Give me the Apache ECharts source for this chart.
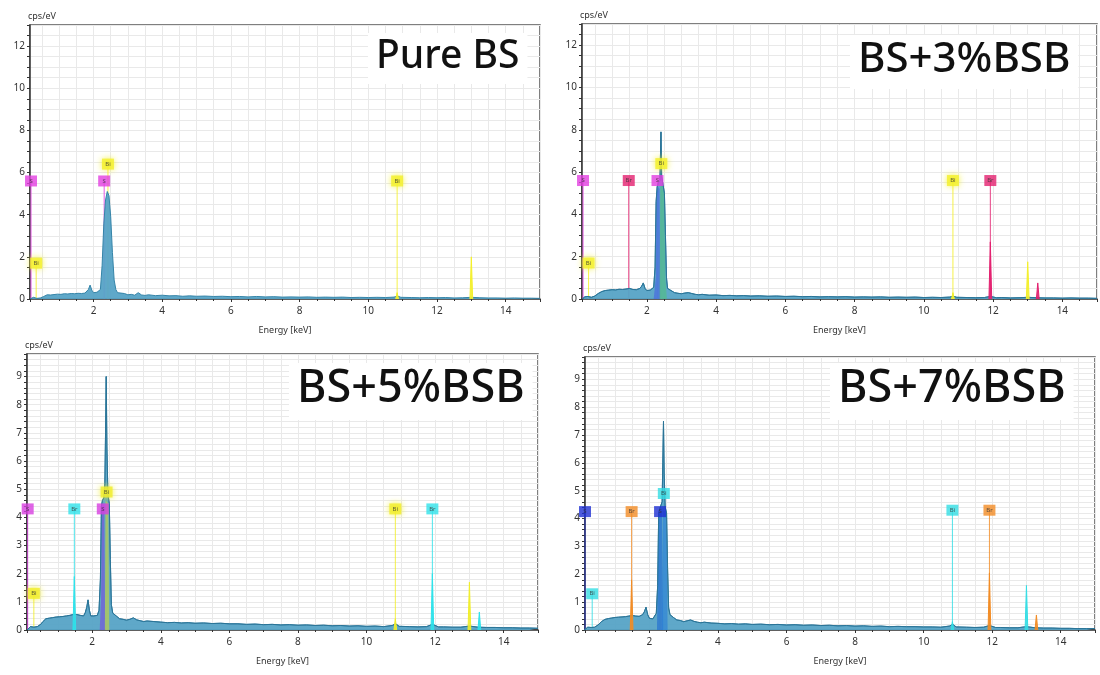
<!DOCTYPE html>
<html>
<head>
<meta charset="utf-8">
<script src="https://cdn.jsdelivr.net/npm/echarts@6/dist/echarts.min.js"></script>
<style>
html,body{margin:0;padding:0;background:#fff;}
#main{width:1100px;height:675px;}
</style>
</head>
<body>
<div id="main"></div>
<script>
// ---------------- DATA ----------------
const titles = ['Pure BS', 'BS+3%BSB', 'BS+5%BSB', 'BS+7%BSB'];
const xAxisName = 'Energy [keV]';
const yAxisName = 'cps/eV';

// measured spectra [energy keV, cps/eV]
const pureBS_spec = [[0.15,0],[0.2,0.04],[0.25,0.08],[0.3,0.05],[0.35,0.03],[0.4,0.06],[0.45,0.05],[0.5,0.09],[0.55,0.12],[0.6,0.15],[0.65,0.2],[0.7,0.22],[0.75,0.19],[0.8,0.24],[0.85,0.21],[0.9,0.26],[0.95,0.23],[1.0,0.27],[1.05,0.22],[1.1,0.28],[1.15,0.25],[1.2,0.3],[1.25,0.24],[1.3,0.29],[1.35,0.26],[1.4,0.31],[1.45,0.25],[1.5,0.3],[1.55,0.27],[1.6,0.33],[1.65,0.26],[1.7,0.31],[1.75,0.28],[1.8,0.35],[1.85,0.45],[1.9,0.66],[1.95,0.42],[2.0,0.3],[2.05,0.27],[2.1,0.32],[2.15,0.29],[2.2,0.45],[2.25,1.6],[2.3,3.6],[2.35,4.7],[2.4,5.1],[2.45,4.9],[2.5,3.9],[2.55,2.2],[2.6,0.9],[2.65,0.45],[2.7,0.3],[2.75,0.36],[2.8,0.28],[2.85,0.24],[2.9,0.26],[3.0,0.2],[3.1,0.22],[3.2,0.18],[3.3,0.3],[3.4,0.19],[3.5,0.17],[3.6,0.2],[3.8,0.16],[4.0,0.18],[4.2,0.15],[4.4,0.16],[4.6,0.13],[4.8,0.15],[5.0,0.13],[5.25,0.14],[5.5,0.12],[5.75,0.13],[6.0,0.11],[6.25,0.12],[6.5,0.1],[6.75,0.12],[7.0,0.1],[7.25,0.11],[7.5,0.09],[7.75,0.1],[8.0,0.09],[8.25,0.1],[8.5,0.08],[8.75,0.09],[9.0,0.08],[9.25,0.09],[9.5,0.07],[9.75,0.08],[10.0,0.07],[10.25,0.08],[10.5,0.07],[10.75,0.09],[10.85,0.14],[10.95,0.08],[11.25,0.07],[11.5,0.06],[11.75,0.07],[12.0,0.06],[12.25,0.07],[12.5,0.05],[12.75,0.06],[13.0,0.08],[13.25,0.06],[13.5,0.05],[13.75,0.05],[14.0,0.04],[14.25,0.05],[14.5,0.04],[14.75,0.04],[15.0,0.03]];

const bs3_spec = [[0.15,0],[0.2,0.1],[0.25,0.06],[0.3,0.12],[0.35,0.05],[0.4,0.08],[0.45,0.1],[0.5,0.14],[0.55,0.2],[0.6,0.26],[0.65,0.3],[0.7,0.35],[0.75,0.31],[0.8,0.4],[0.85,0.36],[0.9,0.42],[0.95,0.35],[1.0,0.44],[1.05,0.38],[1.1,0.43],[1.15,0.37],[1.2,0.46],[1.25,0.4],[1.3,0.45],[1.35,0.39],[1.4,0.47],[1.45,0.42],[1.5,0.5],[1.55,0.41],[1.6,0.45],[1.65,0.38],[1.7,0.44],[1.75,0.4],[1.8,0.5],[1.85,0.6],[1.9,0.76],[1.95,0.5],[2.0,0.4],[2.05,0.36],[2.1,0.42],[2.15,0.38],[2.2,0.55],[2.24,1.5],[2.27,4.6],[2.3,5.3],[2.34,5.5],[2.38,5.6],[2.41,7.9],[2.43,5.8],[2.47,5.4],[2.51,5.0],[2.54,3.0],[2.57,1.0],[2.6,0.5],[2.65,0.55],[2.7,0.4],[2.75,0.35],[2.8,0.3],[2.9,0.27],[3.0,0.25],[3.1,0.28],[3.2,0.3],[3.3,0.26],[3.4,0.22],[3.5,0.2],[3.6,0.22],[3.8,0.18],[4.0,0.19],[4.2,0.16],[4.4,0.17],[4.6,0.15],[4.8,0.16],[5.0,0.14],[5.25,0.15],[5.5,0.13],[5.75,0.14],[6.0,0.12],[6.25,0.13],[6.5,0.11],[6.75,0.12],[7.0,0.1],[7.25,0.11],[7.5,0.1],[7.75,0.11],[8.0,0.09],[8.25,0.1],[8.5,0.09],[8.75,0.1],[9.0,0.08],[9.25,0.09],[9.5,0.08],[9.75,0.09],[10.0,0.07],[10.25,0.08],[10.5,0.07],[10.75,0.09],[10.85,0.13],[10.95,0.08],[11.25,0.07],[11.5,0.06],[11.75,0.07],[11.92,0.12],[12.1,0.06],[12.25,0.07],[12.5,0.05],[12.75,0.06],[13.0,0.08],[13.25,0.06],[13.5,0.05],[13.75,0.05],[14.0,0.04],[14.25,0.05],[14.5,0.04],[14.75,0.04],[15.0,0.03]];

const bs5_spec = [[0.1,0],[0.15,0.06],[0.2,0.12],[0.25,0.08],[0.3,0.1],[0.35,0.06],[0.4,0.12],[0.45,0.15],[0.5,0.2],[0.55,0.28],[0.6,0.35],[0.65,0.4],[0.7,0.45],[0.75,0.42],[0.8,0.48],[0.85,0.44],[0.9,0.5],[0.95,0.46],[1.0,0.52],[1.05,0.47],[1.1,0.53],[1.15,0.48],[1.2,0.55],[1.25,0.5],[1.3,0.56],[1.35,0.52],[1.4,0.58],[1.45,0.55],[1.5,0.62],[1.55,0.55],[1.6,0.6],[1.65,0.52],[1.7,0.57],[1.75,0.5],[1.8,0.62],[1.84,0.8],[1.88,1.07],[1.92,0.7],[1.96,0.5],[2.0,0.45],[2.05,0.5],[2.1,0.46],[2.15,0.52],[2.2,0.7],[2.24,1.8],[2.27,4.4],[2.3,4.6],[2.34,4.7],[2.37,5.2],[2.39,7.0],[2.41,9.0],[2.43,6.5],[2.46,4.8],[2.5,4.5],[2.53,2.5],[2.56,0.9],[2.6,0.6],[2.65,0.65],[2.7,0.5],[2.75,0.45],[2.8,0.4],[2.9,0.38],[3.0,0.35],[3.1,0.38],[3.2,0.43],[3.3,0.36],[3.4,0.33],[3.5,0.3],[3.6,0.32],[3.8,0.3],[4.0,0.28],[4.2,0.26],[4.4,0.27],[4.6,0.25],[4.8,0.26],[5.0,0.24],[5.25,0.25],[5.5,0.23],[5.75,0.24],[6.0,0.22],[6.25,0.22],[6.5,0.2],[6.75,0.21],[7.0,0.19],[7.25,0.2],[7.5,0.18],[7.75,0.19],[8.0,0.17],[8.25,0.18],[8.5,0.16],[8.75,0.17],[9.0,0.15],[9.25,0.16],[9.5,0.14],[9.75,0.15],[10.0,0.13],[10.25,0.14],[10.5,0.12],[10.75,0.16],[10.85,0.22],[10.95,0.13],[11.25,0.12],[11.5,0.11],[11.75,0.12],[11.92,0.2],[12.1,0.11],[12.25,0.11],[12.5,0.1],[12.75,0.1],[13.0,0.14],[13.25,0.1],[13.5,0.09],[13.75,0.09],[14.0,0.08],[14.25,0.08],[14.5,0.07],[14.75,0.07],[15.0,0.06]];

const bs7_spec = [[0.1,0],[0.15,0.05],[0.2,0.1],[0.25,0.07],[0.3,0.09],[0.35,0.05],[0.4,0.1],[0.45,0.13],[0.5,0.18],[0.55,0.24],[0.6,0.3],[0.65,0.34],[0.7,0.38],[0.75,0.35],[0.8,0.41],[0.85,0.37],[0.9,0.43],[0.95,0.39],[1.0,0.45],[1.05,0.4],[1.1,0.46],[1.15,0.41],[1.2,0.47],[1.25,0.43],[1.3,0.48],[1.35,0.44],[1.4,0.5],[1.45,0.46],[1.5,0.52],[1.55,0.45],[1.6,0.5],[1.65,0.44],[1.7,0.49],[1.75,0.45],[1.8,0.55],[1.85,0.65],[1.9,0.82],[1.95,0.55],[2.0,0.42],[2.05,0.45],[2.1,0.4],[2.15,0.46],[2.2,0.6],[2.24,1.6],[2.27,4.2],[2.3,4.35],[2.34,4.4],[2.37,4.6],[2.39,6.0],[2.41,7.5],[2.43,5.6],[2.46,4.4],[2.5,4.2],[2.53,2.2],[2.56,0.8],[2.6,0.55],[2.65,0.6],[2.7,0.45],[2.75,0.4],[2.8,0.36],[2.9,0.34],[3.0,0.3],[3.1,0.33],[3.2,0.36],[3.3,0.31],[3.4,0.28],[3.5,0.26],[3.6,0.28],[3.8,0.25],[4.0,0.24],[4.2,0.22],[4.4,0.23],[4.6,0.21],[4.8,0.22],[5.0,0.2],[5.25,0.21],[5.5,0.19],[5.75,0.2],[6.0,0.18],[6.25,0.19],[6.5,0.17],[6.75,0.18],[7.0,0.16],[7.25,0.17],[7.5,0.15],[7.75,0.16],[8.0,0.14],[8.25,0.15],[8.5,0.13],[8.75,0.14],[9.0,0.12],[9.25,0.13],[9.5,0.12],[9.75,0.12],[10.0,0.11],[10.25,0.11],[10.5,0.1],[10.75,0.14],[10.85,0.2],[10.95,0.11],[11.25,0.1],[11.5,0.09],[11.75,0.1],[11.92,0.16],[12.1,0.09],[12.25,0.09],[12.5,0.08],[12.75,0.08],[13.0,0.12],[13.25,0.08],[13.5,0.07],[13.75,0.07],[14.0,0.06],[14.25,0.06],[14.5,0.05],[14.75,0.05],[15.0,0.05]];

// element fit overlays on the main S/Bi peak: [energy, cps]
const bs3_fitS  = [[2.2,0],[2.26,1.0],[2.28,5.0],[2.33,5.3],[2.37,5.2],[2.39,0]];
const bs3_fitBi = [[2.37,0],[2.39,5.3],[2.45,5.4],[2.5,5.0],[2.54,1.0],[2.58,0]];
const bs5_fitS  = [[2.22,0],[2.26,1.2],[2.28,4.4],[2.35,4.5],[2.38,0]];
const bs5_fitBi = [[2.37,0],[2.39,4.6],[2.47,4.5],[2.5,0]];
const bs7_fitS  = [[2.22,0],[2.27,4.2],[2.37,4.3],[2.4,0]];
const bs7_fitBi = [[2.37,0],[2.4,4.3],[2.5,4.2],[2.53,0]];

// narrow fitted lines: [energy, height, element]
const pureBS_lines = [[13.0,2.0,'Bi'],[10.84,0.3,'Bi']];
const bs3_lines = [[11.92,2.7,'Br'],[13.0,1.76,'Bi'],[13.29,0.76,'Br'],[10.84,0.3,'Bi']];
const bs5_lines = [[1.48,1.9,'Br'],[11.92,2.0,'Br'],[13.0,1.7,'Bi'],[13.29,0.64,'Br'],[10.84,0.4,'Bi']];
const bs7_lines = [[1.48,1.8,'Br'],[11.92,2.05,'Br'],[13.0,1.6,'Bi'],[13.29,0.54,'Br'],[10.84,0.3,'Bi']];

// element markers: [energy, label height, element]
const pureBS_marks = [[0.18,5.6,'S'],[0.33,1.7,'Bi'],[2.31,5.6,'S'],[2.42,6.4,'Bi'],[10.84,5.6,'Bi']];
const bs3_marks = [[0.16,5.6,'S'],[0.32,1.7,'Bi'],[1.48,5.6,'Br'],[2.31,5.6,'S'],[2.42,6.4,'Bi'],[10.84,5.6,'Bi'],[11.92,5.6,'Br']];
const bs5_marks = [[0.12,4.3,'S'],[0.3,1.3,'Bi'],[1.48,4.3,'Br'],[2.31,4.3,'S'],[2.42,4.9,'Bi'],[10.84,4.3,'Bi'],[11.92,4.3,'Br']];
const bs7_marks = [[0.12,4.25,'S'],[0.33,1.3,'Bi'],[1.48,4.25,'Br'],[2.31,4.25,'S'],[2.42,4.9,'Bi'],[10.84,4.3,'Bi'],[11.92,4.3,'Br']];

// axis ranges
const xRange = [[0.15,15],[0.13,15],[0.1,15],[0.12,15]];
const yMaxes = [13, 13, 9.8, 9.8];
const yTickSteps = [0.5, 0.5, 0.2, 0.2];
const yLabelSteps = [2, 2, 1, 1];

// ---------------- STYLE / LAYOUT ----------------
const grids = [
  {left:30, top:25, width:510, height:274},
  {left:582, top:24, width:515, height:275},
  {left:27, top:354, width:511, height:276},
  {left:585, top:357, width:510, height:273}
];
const titlePos = [[368,33],[850,35],[289,363],[830,363]];
const titleSizes = [39, 42, 45, 45];
const elColors = [
  {S:'#e23ee0', Bi:'#f4f02a', Br:'#e23ee0'},
  {S:'#e23ee0', Bi:'#f4f02a', Br:'#e3206f'},
  {S:'#d73fe0', Bi:'#f1ee2a', Br:'#2fe2ea'},
  {S:'#1e2fd2', Bi:'#33dde4', Br:'#f28c25'}
];
const overlayColors = [
  null,
  {S:'rgba(70,100,225,0.9)', Bi:'rgba(80,190,130,0.9)'},
  {S:'rgba(120,80,215,0.9)', Bi:'rgba(200,210,60,0.9)'},
  {S:'rgba(35,110,210,0.95)', Bi:'rgba(45,130,215,0.95)'}
];
const specs = [pureBS_spec, bs3_spec, bs5_spec, bs7_spec];
const overlays = [null, {S:bs3_fitS, Bi:bs3_fitBi}, {S:bs5_fitS, Bi:bs5_fitBi}, {S:bs7_fitS, Bi:bs7_fitBi}];
const linesAll = [pureBS_lines, bs3_lines, bs5_lines, bs7_lines];
const marksAll = [pureBS_marks, bs3_marks, bs5_marks, bs7_marks];

const chart = echarts.init(document.getElementById('main'), null, {renderer:'canvas'});
const FONT = 'Noto Sans';
const axisColor = '#333';
const gridColor = '#e9e9e9';

const option = {
  backgroundColor:'#fff',
  animation:false,
  title: titles.map((t,i)=>({
    text:t, left:titlePos[i][0], top:titlePos[i][1],
    backgroundColor:'#fff', padding:[4,8,8,8],
    textStyle:{fontFamily:FONT, fontSize:titleSizes[i], fontWeight:500, color:'#111'}
  })),
  grid: grids.map(g=>Object.assign({show:true, borderColor:'#555', borderWidth:1.5, backgroundColor:'#fff'}, g)),
  xAxis: grids.map((g,i)=>({
    type:'value', gridIndex:i, min:xRange[i][0], max:xRange[i][1], splitNumber:7,
    name:xAxisName, nameLocation:'middle', nameGap:27,
    nameTextStyle:{fontFamily:FONT, fontSize:9, color:'#333'},
    axisLine:{show:true, onZero:false, lineStyle:{color:axisColor, width:1.5}},
    axisTick:{show:true, length:3, lineStyle:{color:axisColor}},
    minorTick:{show:true, splitNumber:4, length:2, lineStyle:{color:axisColor}},
    axisLabel:{fontFamily:FONT, fontSize:10, color:'#333', margin:7, showMinLabel:false, showMaxLabel:false},
    splitLine:{show:true, lineStyle:{color:gridColor, width:1}},
    minorSplitLine:{show:true, lineStyle:{color:gridColor, width:1}}
  })),
  yAxis: grids.map((g,i)=>({
    type:'value', gridIndex:i, min:0, max:yMaxes[i], interval:yTickSteps[i],
    name:yAxisName, nameLocation:'end', nameGap:4,
    nameTextStyle:{fontFamily:FONT, fontSize:9, color:'#333', align:'left', padding:[0,0,0,-2]},
    axisLine:{show:true, lineStyle:{color:axisColor, width:1.5}},
    axisTick:{show:true, length:3, lineStyle:{color:axisColor}},
    axisLabel:{fontFamily:FONT, fontSize:10, color:'#333', margin:5,
      formatter:(v)=>{const s=yLabelSteps[i]; const r=v/s; return Math.abs(r-Math.round(r))<1e-6 ? String(Math.round(v)) : '';}},
    splitLine:{show:true, lineStyle:{color:gridColor, width:1}}
  })),
  series: []
};

for (let i=0;i<4;i++){
  const col = elColors[i];
  // marker vertical lines (label to axis), drawn beneath the spectrum
  marksAll[i].forEach(m=>{
    option.series.push({
      type:'line', xAxisIndex:i, yAxisIndex:i, symbol:'none', z:1,
      data:[[m[0],0],[m[0],m[1]]],
      lineStyle:{color:col[m[2]], width:1, opacity:0.85}
    });
  });
  // spectrum area
  option.series.push({
    type:'line', xAxisIndex:i, yAxisIndex:i, data:specs[i], symbol:'none', z:2,
    lineStyle:{color:'#3584a8', width:1},
    areaStyle:{color:'#56a3c6', opacity:0.95}
  });
  // peak overlays
  if (overlays[i]){
    for (const el of ['S','Bi']){
      option.series.push({
        type:'line', xAxisIndex:i, yAxisIndex:i, data:overlays[i][el], symbol:'none', z:3,
        lineStyle:{width:0}, areaStyle:{color:overlayColors[i][el]}
      });
    }
    // spectrum line on top
    option.series.push({
      type:'line', xAxisIndex:i, yAxisIndex:i, data:specs[i], symbol:'none', z:4,
      lineStyle:{color:'#2b7497', width:1}
    });
  }
  // narrow fitted peaks
  linesAll[i].forEach(l=>{
    option.series.push({
      type:'line', xAxisIndex:i, yAxisIndex:i, symbol:'none', z:5,
      data:[[l[0]-0.04,0],[l[0],l[1]],[l[0]+0.04,0]],
      lineStyle:{color:col[l[2]], width:1},
      areaStyle:{color:col[l[2]], opacity:0.9}
    });
  });
  // marker label boxes
  option.series.push({
    type:'scatter', xAxisIndex:i, yAxisIndex:i, z:10, clip:false,
    symbol:'rect', symbolSize:[12,11],
    data:marksAll[i].map(m=>({value:[m[0],m[1]], name:m[2],
      itemStyle:{color:col[m[2]], shadowBlur:m[2]==='Bi'&&i<3?6:0, shadowColor:col[m[2]]}})),
    label:{show:true, position:'inside', formatter:(p)=>p.name, fontSize:6, color:'#333', fontFamily:FONT}
  });
}

chart.setOption(option);
</script>
</body>
</html>
